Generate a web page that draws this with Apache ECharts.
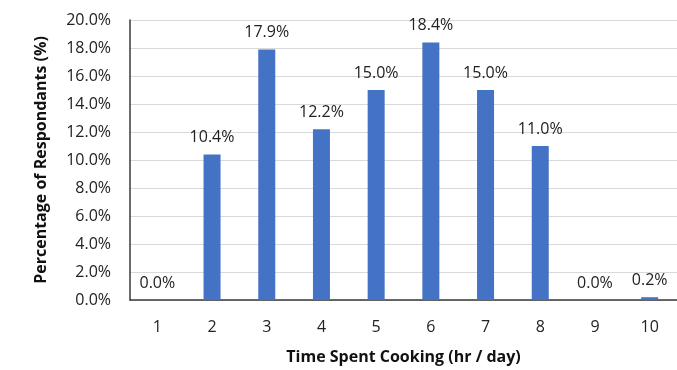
<!DOCTYPE html>
<html>
<head>
<meta charset="utf-8">
<script src="https://cdn.jsdelivr.net/npm/echarts@6/dist/echarts.min.js"></script>
<style>
  html, body { margin: 0; padding: 0; background: #fff; }
  #chart { width: 677px; height: 370px; }
</style>
</head>
<body>
<div id="chart"></div>
<script>
// Hours per day spent cooking, and share of respondents for each
const hours = ['1', '2', '3', '4', '5', '6', '7', '8', '9', '10'];
const percentRespondents = [0.0, 10.4, 17.9, 12.2, 15.0, 18.4, 15.0, 11.0, 0.0, 0.2];

const font = '"Open Sans", Lato, sans-serif';
const chart = echarts.init(document.getElementById('chart'), null, { renderer: 'canvas' });

chart.setOption({
  animation: false,
  // plot area runs past the right edge of the canvas, clipping the last column
  grid: { left: 130, width: 560, top: 20, height: 284, containLabel: false },
  xAxis: {
    type: 'category',
    data: hours,
    name: 'Time Spent Cooking (hr / day)',
    nameLocation: 'middle',
    nameGap: 49,
    nameTextStyle: { fontFamily: font, fontSize: 16, fontWeight: 'bold', color: '#111' },
    axisLine: { lineStyle: { color: '#3a3a3a', width: 1.5 } },
    axisTick: { show: false },
    axisLabel: { fontFamily: font, fontSize: 16, color: '#222', margin: 19 }
  },
  yAxis: {
    type: 'value',
    min: 0,
    max: 20,
    interval: 2,
    name: 'Percentage of Respondants (%)',
    nameLocation: 'middle',
    nameGap: 81,
    nameTextStyle: { fontFamily: font, fontSize: 16, fontWeight: 'bold', color: '#111' },
    axisLine: { show: true, lineStyle: { color: '#3a3a3a', width: 1.5 } },
    axisTick: { show: false },
    splitLine: { lineStyle: { color: '#d9d9d9', width: 1 } },
    axisLabel: {
      fontFamily: font, fontSize: 16, color: '#222', margin: 19,
      formatter: v => v.toFixed(1) + '%'
    }
  },
  series: [{
    type: 'bar',
    data: percentRespondents,
    barWidth: 17,
    itemStyle: { color: '#4472C4' },
    label: {
      show: true,
      position: 'top',
      distance: 9,
      fontFamily: font,
      fontSize: 16,
      color: '#222',
      formatter: p => p.value.toFixed(1) + '%'
    }
  }]
});
</script>
</body>
</html>
